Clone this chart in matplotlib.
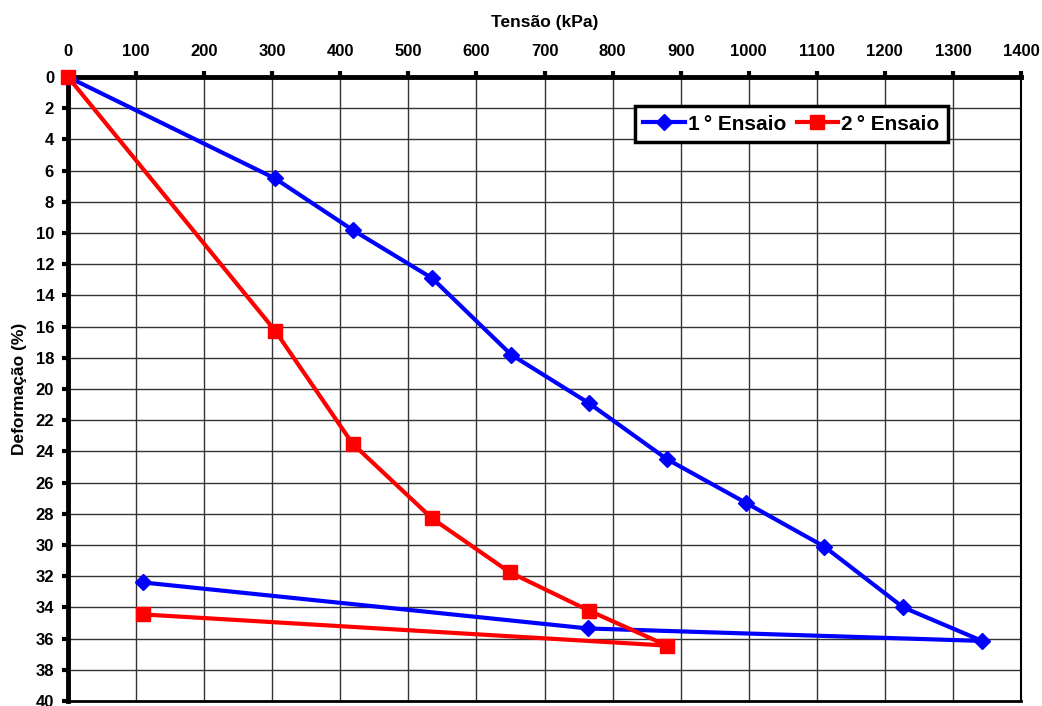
import matplotlib
matplotlib.use("Agg")
import matplotlib.pyplot as plt

# Ensaio 1 (tensão em kPa, deformação em %)
tensao_1 = [0, 304, 418, 535, 651, 765, 880, 996, 1111, 1227, 1343, 764, 110]
deform_1 = [0, 6.5, 9.8, 12.9, 17.8, 20.9, 24.5, 27.3, 30.1, 34.0, 36.15, 35.35, 32.4]

# Ensaio 2
tensao_2 = [0, 304, 418, 535, 649, 765, 880, 110]
deform_2 = [0, 16.25, 23.5, 28.3, 31.75, 34.2, 36.45, 34.45]

x_ticks = list(range(0, 1401, 100))
y_ticks = list(range(0, 41, 2))

plt.rcParams['font.family'] = ['Liberation Sans', 'DejaVu Sans']
plt.rcParams['font.weight'] = 'bold'

fig = plt.figure(figsize=(10.42, 7.06), dpi=100)
ax = fig.add_axes([68 / 1042, 1 - 701 / 706, (1021 - 68) / 1042, (701 - 77) / 706])

ax.plot(tensao_1, deform_1, color='#0000FF', lw=3, marker='D', ms=8.5,
        mec='#0000FF', mfc='#0000FF', label='1\u2009° Ensaio', zorder=3)
ax.plot(tensao_2, deform_2, color='#FF0000', lw=3, marker='s', ms=10,
        mec='#FF0000', mfc='#FF0000', label='2\u2009° Ensaio', zorder=3, clip_on=False)

ax.set_xlim(0, 1400)
ax.set_ylim(40, 0)
ax.set_xticks(x_ticks)
ax.set_yticks(y_ticks)
ax.xaxis.tick_top()
ax.xaxis.set_label_position('top')

ax.grid(True, color='#333333', lw=1.0)
ax.set_axisbelow(True)

ax.tick_params(axis='x', which='both', top=True, bottom=False, direction='out',
               length=4, width=3, pad=9, labelsize=12)
ax.tick_params(axis='y', direction='out', length=4, width=3, pad=6, labelsize=12)
for lab in ax.get_xticklabels() + ax.get_yticklabels():
    lab.set_fontweight('bold')

ax.spines['top'].set_linewidth(3.5)
ax.spines['left'].set_linewidth(3.5)
ax.spines['bottom'].set_linewidth(2)
ax.spines['right'].set_linewidth(1.5)
for s in ax.spines.values():
    s.set_color('black')

ax.set_xlabel('Tensão (kPa)', fontsize=12.5, fontweight='bold', labelpad=12)
ax.set_ylabel('Deformação (%)', fontsize=12.5, fontweight='bold', labelpad=6)

leg = ax.legend(loc='upper center', bbox_to_anchor=(0.759, 0.953), ncol=2,
                fontsize=15, frameon=True, fancybox=False, borderpad=0.4,
                handlelength=2.0, handletextpad=0.15, columnspacing=0.5,
                borderaxespad=0)
leg.get_frame().set_edgecolor('black')
leg.get_frame().set_linewidth(2.5)
leg.get_frame().set_alpha(1)
for t in leg.get_texts():
    t.set_fontweight('bold')

fig.savefig('out.png', dpi=100)
